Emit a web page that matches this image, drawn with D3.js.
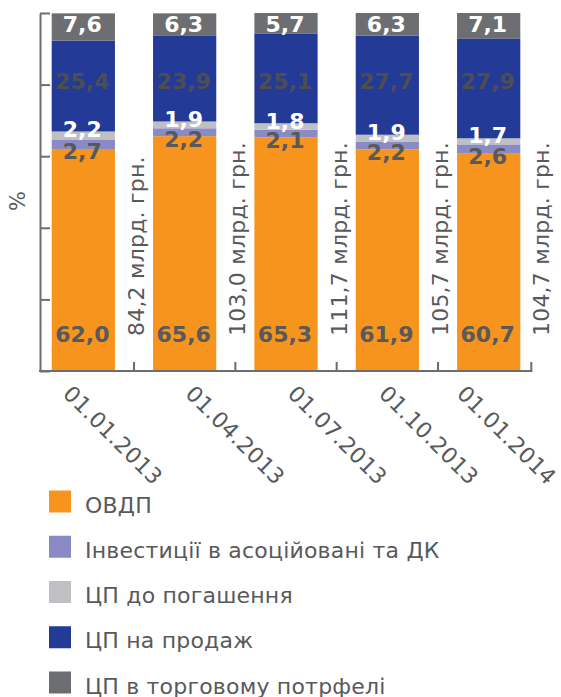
<!DOCTYPE html>
<html>
<head>
<meta charset="utf-8">
<script src="https://cdn.jsdelivr.net/npm/d3@7"></script>
<style>
  html, body { margin: 0; padding: 0; background: #fff; }
  svg { display: block; font-family: "DejaVu Sans", Verdana, sans-serif; }
</style>
</head>
<body>
<svg id="chart" width="561" height="697"></svg>
<script>
// ---- data ----
const categories = ["01.01.2013", "01.04.2013", "01.07.2013", "01.10.2013", "01.01.2014"];
const seriesNames = ["ОВДП", "Інвестиції в асоційовані та ДК", "ЦП до погашення", "ЦП на продаж", "ЦП в торговому потрфелі"];
const ovdp     = [62.0, 65.6, 65.3, 61.9, 60.7];
const invest   = [2.7, 2.2, 2.1, 2.2, 2.6];
const maturity = [2.2, 1.9, 1.8, 1.9, 1.7];
const forSale  = [25.4, 23.9, 25.1, 27.7, 27.9];
const trading  = [7.6, 6.3, 5.7, 6.3, 7.1];
const totals   = [84.2, 103.0, 111.7, 105.7, 104.7];
const yTicks   = [0, 20, 40, 60, 80, 100];
const yLabel   = "%";
const totalUnit = " млрд. грн.";

// ---- styles ----
const colors = ["#F7941E", "#8A8AC4", "#BFC0C4", "#233A96", "#6D6E71"];
const labelColors = ["#58595B", "#58595B", "#FFFFFF", "#4D4E52", "#FFFFFF"];
const axisColor = "#6D6E71";
const textColor = "#58595B";

const keys = ["ovdp", "invest", "maturity", "forSale", "trading"];
const table = categories.map((c, i) => ({
  cat: c, ovdp: ovdp[i], invest: invest[i], maturity: maturity[i], forSale: forSale[i], trading: trading[i]
}));
const stacked = d3.stack().keys(keys)(table);

const svg = d3.select("#chart");
const fmt = v => d3.format(".1f")(v).replace(".", ",");

// scales
const x = d3.scaleBand().domain(categories).range([51.7, 520.3]).paddingInner(0.376).paddingOuter(0);
const y = d3.scaleLinear().domain([0, 100]).range([371, 13]);
const bw = x.bandwidth();
const gap = x.step() - bw;
const axisX = 40;
const axisEnd = x(categories[categories.length - 1]) + bw + 11;

// bars
const g = svg.append("g");
stacked.forEach((layer, si) => {
  g.selectAll(null).data(layer).enter().append("rect")
    .attr("x", d => x(d.data.cat))
    .attr("y", d => y(d[1]))
    .attr("width", bw)
    .attr("height", d => y(d[0]) - y(d[1]))
    .attr("fill", colors[si]);
});

// y axis
const yAxis = d3.axisRight(y).tickValues(yTicks).tickSize(10).tickSizeOuter(0).tickFormat("");
const ya = svg.append("g").attr("transform", `translate(${axisX},0)`).call(yAxis);
ya.selectAll("path, line").attr("stroke", axisColor).attr("stroke-width", 2);

// x axis line and ticks
svg.append("line").attr("x1", axisX - 1).attr("x2", axisEnd + 1).attr("y1", y(0)).attr("y2", y(0))
  .attr("stroke", axisColor).attr("stroke-width", 2);
const xTickPos = categories.slice(0, -1).map(c => x(c) + bw + gap / 2).concat([axisEnd]);
svg.selectAll(null).data(xTickPos).enter().append("line")
  .attr("x1", d => d).attr("x2", d => d).attr("y1", y(0)).attr("y2", y(0) - 9)
  .attr("stroke", axisColor).attr("stroke-width", 2);

// value labels
const fs = 22;
const capHalf = fs * 0.729 / 2;
function labelCenter(si, d) {
  const mid = (y(d[0]) + y(d[1])) / 2;
  if (si === 0) return y(0) - 37;
  if (si === 1) return mid + 7;
  if (si === 2) return mid - 6;
  if (si === 3) return y(81);
  return y(100) + 11;
}
stacked.forEach((layer, si) => {
  svg.selectAll(null).data(layer).enter().append("text")
    .attr("x", d => x(d.data.cat) + bw / 2 - 1)
    .attr("y", d => labelCenter(si, d) + capHalf)
    .attr("text-anchor", "middle")
    .attr("font-size", fs)
    .attr("font-weight", "bold")
    .attr("fill", labelColors[si])
    .text(d => fmt(d[1] - d[0]));
});

// totals, rotated
svg.selectAll(null).data(categories).enter().append("text")
  .attr("transform", (c, i) => `translate(${x(c) + bw + 29},336) rotate(-90)`)
  .attr("font-size", 22)
  .attr("letter-spacing", 0.2)
  .attr("fill", textColor)
  .text((c, i) => fmt(totals[i]) + totalUnit);

// category labels
const labelNudge = [-21.5, -0.5, 0.5, -9.5, -33];
svg.selectAll(null).data(categories).enter().append("text")
  .attr("transform", (c, i) => `translate(${x(c) + bw / 2 + labelNudge[i]},395) rotate(45)`)
  .attr("font-size", 22)
  .attr("letter-spacing", 0.3)
  .attr("fill", textColor)
  .text(c => c);

// y label
svg.append("text")
  .attr("transform", "translate(25,201) rotate(-90)")
  .attr("text-anchor", "middle")
  .attr("font-size", 21)
  .attr("fill", textColor)
  .text(yLabel);

// legend
const legTop = 490.5, legStep = 45.25;
const lg = svg.selectAll(null).data(seriesNames).enter().append("g")
  .attr("transform", (d, i) => `translate(49,${legTop + i * legStep})`);
lg.append("rect").attr("width", 22).attr("height", 22).attr("fill", (d, i) => colors[i]);
lg.append("text").attr("x", 36).attr("y", 22).attr("font-size", 22).attr("letter-spacing", 0.2)
  .attr("fill", textColor).text(d => d);
</script>
</body>
</html>
